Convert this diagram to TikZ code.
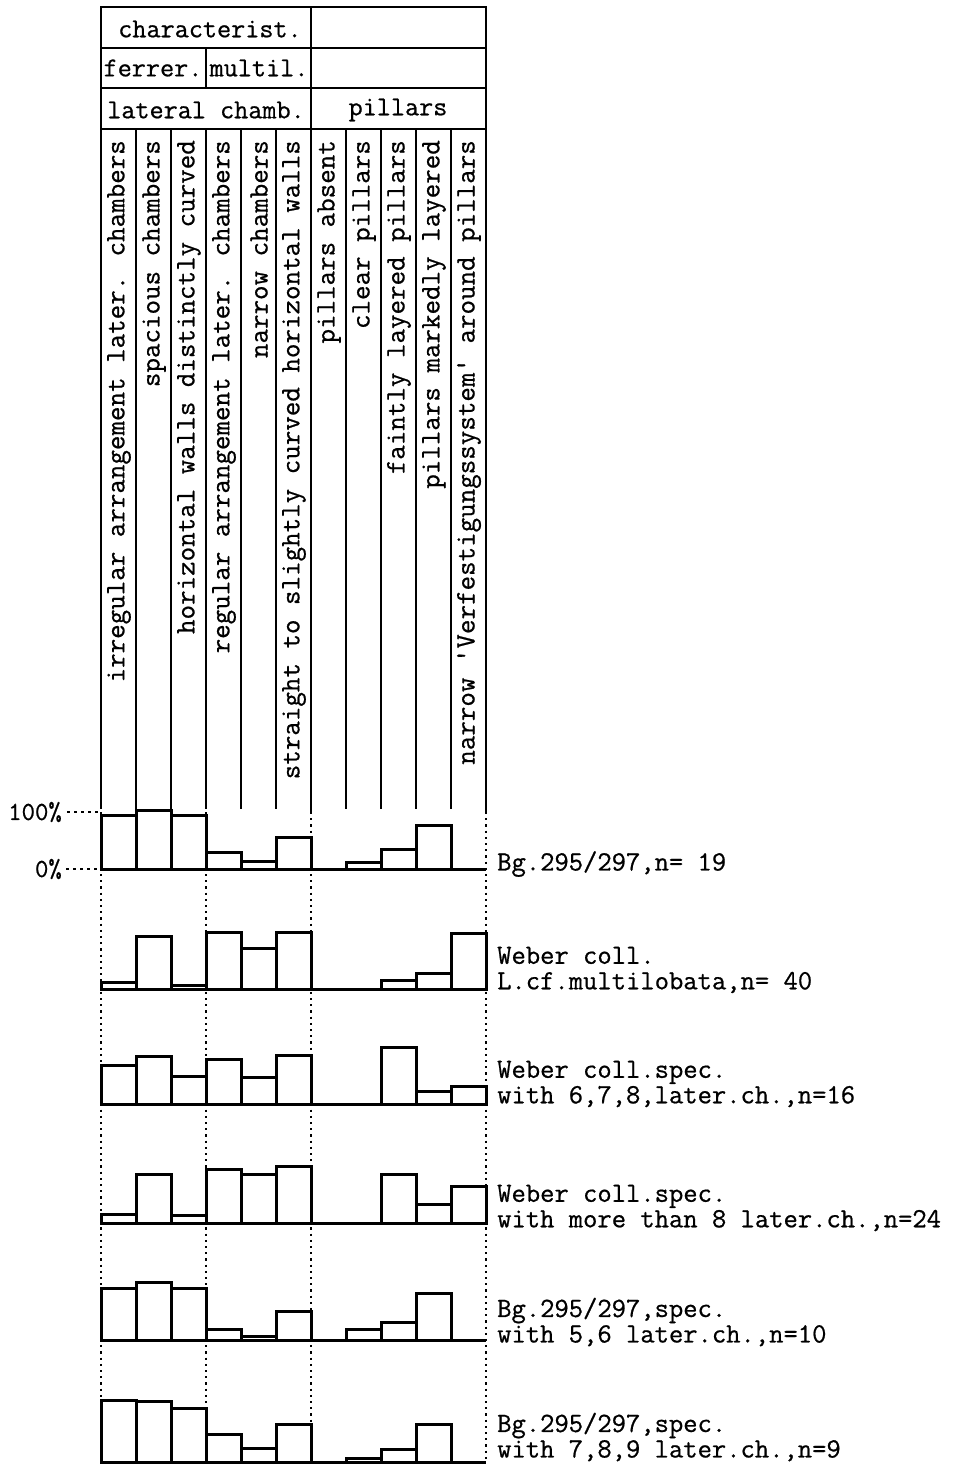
\documentclass[tikz,border=0pt]{standalone}
\usepackage{fontspec}
\newfontfamily\tw{Latin Modern Mono}[FakeBold=0.7]
\begin{document}
\begin{tikzpicture}[x=1pt,y=-1pt,
  frame/.style={line width=2.9pt,line cap=rect},
  colline/.style={line width=2.8pt},
  barbox/.style={line width=3pt,fill=white,line join=miter},
  dotline/.style={line width=2.3pt,dash pattern=on 2.2pt off 4pt},
  leader/.style={line width=2pt,dash pattern=on 3pt off 4pt},
  txt/.style={font=\tw\fontsize{27.8}{25.5}\selectfont,inner sep=0pt},
  hdr/.style={font=\tw\fontsize{27.4}{24}\selectfont,inner sep=0pt},
  collab/.style={font=\tw\fontsize{28.2}{24}\selectfont,inner sep=0pt,rotate=90,anchor=east},
  rowlab/.style={txt,anchor=west,align=left},
  pct/.style={font=\tw\fontsize{26}{22}\selectfont,inner sep=0pt,anchor=east}]
\useasboundingbox (0,0) rectangle (965,1464);

% dotted verticals
\foreach \xx in {101,206,311,486}{
  \draw[dotline] (\xx,812) -- (\xx,1462);
}

% header table
\draw[frame] (101,7) rectangle (486,129);
\draw[frame] (101,48) -- (486,48);
\draw[frame] (101,88) -- (486,88);
\draw[frame] (311,7) -- (311,129);
\draw[frame] (206,48) -- (206,88);
\node[hdr] (hchar) at (210,29) {characterist.};
\node[hdr] (hferr) at (153,68) {ferrer.};
\node[hdr] (hmult) at (259,68) {multil.};
\node[hdr] (hlat) at (206,110) {lateral chamb.};
\node[hdr] (hpil) at (398,110) {pillars};

% column lines
\foreach \i in {0,...,11}{
  \draw[colline] ({101+35*\i},129) -- ({101+35*\i},809);
}
\draw[colline] (311,809) -- (311,813);
\draw[colline] (486,809) -- (486,813);

% column labels
\foreach \lab [count=\i] in {
  {irregular arrangement later. chambers},
  {spacious chambers},
  {horizontal walls distinctly curved},
  {regular arrangement later. chambers},
  {narrow chambers},
  {straight to slightly curved horizontal walls},
  {pillars absent},
  {clear pillars},
  {faintly layered pillars},
  {pillars markedly layered},
  {narrow 'Verfestigungssystem' around pillars}}{
  \node[collab] (c\i) at ({101+35*\i-17},140) {\lab};
}

% percentage labels
\node[pct] (p100) at (62,812) {100\%};
\node[pct] (p0) at (62,869) {0\%};
\coordinate (q100) at (98,812);
\coordinate (q0) at (98,869);
\draw[leader] ([xshift=5pt]p100.east) -- (q100);
\draw[leader] ([xshift=4pt]p0.east) -- (q0);

% bars
\newcommand\barrow[2]{%
  \foreach \c/\h in {#2}{\draw[barbox] ({101+35*(\c-1)},#1) rectangle ++(35,-\h);}%
  \draw[barbox] (101,#1) -- (486,#1);}
\barrow{869}{1/54,2/59,3/54,4/17,5/8,6/32,8/7,9/20,10/44}
\barrow{989}{1/7,2/53,3/3.5,4/57,5/41,6/57,9/8.5,10/16,11/56}
\barrow{1104}{1/39,2/48,3/28,4/45,5/27,6/49,9/57,10/13,11/18}
\barrow{1223}{1/9,2/49,3/8,4/54,5/49,6/57,9/49,10/19,11/37}
\barrow{1340}{1/52,2/58,3/52,4/11,5/3.5,6/29,8/11,9/18,10/47}
\barrow{1462}{1/62,2/61,3/54,4/28,5/14,6/38,8/3.5,9/13,10/38}

% row labels
\node[rowlab] (r1) at (497,864) {Bg.295/297,n= 19};
\node[rowlab] (r2) at (497,970) {Weber coll.\\L.cf.multilobata,n= 40};
\node[rowlab] (r3) at (497,1084) {Weber coll.spec.\\with 6,7,8,later.ch.,n=16};
\node[rowlab] (r4) at (497,1208) {Weber coll.spec.\\with more than 8 later.ch.,n=24};
\node[rowlab] (r5) at (497,1322) {Bg.295/297,spec.\\with 5,6 later.ch.,n=10};
\node[rowlab] (r6) at (497,1437) {Bg.295/297,spec.\\with 7,8,9 later.ch.,n=9};
\end{tikzpicture}
\end{document}
